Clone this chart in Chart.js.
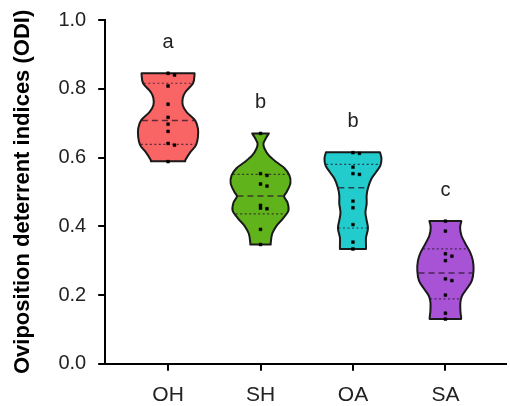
<!DOCTYPE html>
<html><head><meta charset="utf-8">
<script src="https://cdn.jsdelivr.net/npm/chart.js@4"></script>
<style>html,body{margin:0;padding:0;background:#fff}#wrap{width:510px;height:406px;position:relative}</style>
</head><body><div id="wrap"><canvas id="c"></canvas></div>
<script>
// ---- data ----
const categories = ['OH', 'SH', 'OA', 'SA'];
const letters = ['a', 'b', 'b', 'c'];
const yTicks = [0, 0.2, 0.4, 0.6, 0.8, 1.0];

// individual observations
const ohPoints = [0.845, 0.840, 0.808, 0.755, 0.717, 0.697, 0.676, 0.641, 0.636, 0.588];
const shPoints = [0.670, 0.553, 0.548, 0.523, 0.517, 0.461, 0.453, 0.451, 0.391, 0.347];
const oaPoints = [0.614, 0.612, 0.572, 0.553, 0.551, 0.473, 0.454, 0.405, 0.354, 0.334];
const saPoints = [0.415, 0.386, 0.320, 0.313, 0.300, 0.247, 0.242, 0.200, 0.147, 0.130];

// violin outline: levels (ODI) and half-widths (category units)
const ohLevels = [0.845, 0.840, 0.816, 0.790, 0.773, 0.752, 0.732, 0.708, 0.685, 0.659, 0.636, 0.615, 0.592, 0.589];
const ohWidths = [0.286, 0.286, 0.270, 0.186, 0.159, 0.159, 0.201, 0.292, 0.323, 0.323, 0.302, 0.239, 0.186, 0.186];
const shLevels = [0.670, 0.656, 0.641, 0.627, 0.606, 0.586, 0.569, 0.548, 0.525, 0.499, 0.487, 0.469, 0.446, 0.423, 0.402, 0.379, 0.353, 0.347];
const shWidths = [0.090, 0.058, 0.032, 0.042, 0.090, 0.175, 0.260, 0.313, 0.323, 0.281, 0.255, 0.292, 0.302, 0.244, 0.175, 0.127, 0.111, 0.111];
const oaLevels = [0.615, 0.598, 0.577, 0.557, 0.539, 0.513, 0.490, 0.466, 0.440, 0.417, 0.394, 0.367, 0.344, 0.334];
const oaWidths = [0.292, 0.308, 0.297, 0.249, 0.201, 0.164, 0.148, 0.148, 0.135, 0.148, 0.162, 0.141, 0.141, 0.141];
const saLevels = [0.415, 0.397, 0.373, 0.350, 0.324, 0.300, 0.271, 0.242, 0.219, 0.198, 0.179, 0.155, 0.135, 0.130];
const saWidths = [0.173, 0.159, 0.173, 0.215, 0.268, 0.297, 0.304, 0.286, 0.233, 0.180, 0.162, 0.162, 0.170, 0.170];

const medians = [0.708, 0.488, 0.512, 0.264];
const q1 = [0.638, 0.436, 0.395, 0.189];
const q3 = [0.816, 0.551, 0.580, 0.334];

const fillColors = ['#F96464', '#60B31A', '#22CCCC', '#A852D6'];

// ---- build ----
const groups = [
  {levels: ohLevels, widths: ohWidths, points: ohPoints},
  {levels: shLevels, widths: shWidths, points: shPoints},
  {levels: oaLevels, widths: oaWidths, points: oaPoints},
  {levels: saLevels, widths: saWidths, points: saPoints}
];

const scatterData = [];
groups.forEach((g, i) => {
  let prev = null;
  g.points.forEach(v => {
    const dup = prev !== null && Math.abs(prev - v) < 0.008;
    scatterData.push({x: i + 1 + (dup ? 0.07 : 0), y: v});
    prev = v;
  });
});

function catmull(ctx, p) {
  for (let i = 0; i < p.length - 1; i++) {
    const p0 = p[i - 1] || p[i], p1 = p[i], p2 = p[i + 1], p3 = p[i + 2] || p[i + 1];
    ctx.bezierCurveTo(p1.x + (p2.x - p0.x) / 6, p1.y + (p2.y - p0.y) / 6,
                      p2.x - (p3.x - p1.x) / 6, p2.y - (p3.y - p1.y) / 6, p2.x, p2.y);
  }
}
function widthAt(g, v) {
  const L = g.levels, W = g.widths;
  for (let k = 0; k < L.length - 1; k++) {
    if (v <= L[k] && v >= L[k + 1]) {
      const t = (L[k] - v) / (L[k] - L[k + 1] || 1);
      return W[k] + t * (W[k + 1] - W[k]);
    }
  }
  return W[W.length - 1];
}

const FONT = '"Liberation Sans", Arial, sans-serif';

const violinPlugin = {
  id: 'violin',
  beforeDatasetsDraw(chart) {
    const {ctx, scales: {x, y}} = chart;
    ctx.save();
    groups.forEach((g, i) => {
      const cx = i + 1;
      const left = g.levels.map((v, k) => ({x: x.getPixelForValue(cx - g.widths[k]), y: y.getPixelForValue(v)}));
      const right = g.levels.map((v, k) => ({x: x.getPixelForValue(cx + g.widths[k]), y: y.getPixelForValue(v)})).reverse();
      ctx.beginPath();
      ctx.moveTo(right[right.length - 1].x, right[right.length - 1].y);
      ctx.lineTo(left[0].x, left[0].y);
      catmull(ctx, left);
      ctx.lineTo(right[0].x, right[0].y);
      catmull(ctx, right);
      ctx.closePath();
      ctx.fillStyle = fillColors[i];
      ctx.fill();
      ctx.lineWidth = 2;
      ctx.strokeStyle = '#1a1a1a';
      ctx.lineJoin = 'round';
      ctx.stroke();
      // quartiles & median
      const lines = [[q3[i], [2, 2.5], 1.2], [medians[i], [6, 4], 1.5], [q1[i], [2, 2.5], 1.2]];
      lines.forEach(([v, dash, lw]) => {
        const hw = widthAt(g, v) * 0.97;
        ctx.beginPath();
        ctx.setLineDash(dash);
        ctx.lineWidth = lw;
        ctx.strokeStyle = 'rgba(40,20,40,0.75)';
        const py = y.getPixelForValue(v);
        ctx.moveTo(x.getPixelForValue(cx - hw), py);
        ctx.lineTo(x.getPixelForValue(cx + hw), py);
        ctx.stroke();
      });
      ctx.setLineDash([]);
    });
    ctx.restore();
  },
  afterDatasetsDraw(chart) {
    const {ctx, scales: {x, y}} = chart;
    ctx.save();
    ctx.font = '20px ' + FONT;
    ctx.fillStyle = '#222';
    ctx.textAlign = 'center';
    ctx.textBaseline = 'middle';
    groups.forEach((g, i) => {
      ctx.fillText(letters[i], x.getPixelForValue(i + 1), y.getPixelForValue(Math.max(...g.levels)) - 31);
    });
    ctx.restore();
  }
};

new Chart(document.getElementById('c'), {
  type: 'scatter',
  data: {
    datasets: [{
      data: scatterData,
      pointRadius: 2,
      pointStyle: 'rect',
      backgroundColor: '#000',
      borderColor: '#000',
      borderWidth: 0.5
    }]
  },
  options: {
    responsive: true,
    maintainAspectRatio: false,
    animation: false,
    layout: {padding: {top: 8, left: 10, right: 0, bottom: -14}},
    plugins: {legend: {display: false}, tooltip: {enabled: false}},
    scales: {
      x: {
        type: 'linear', min: 0.32, max: 4.65,
        afterBuildTicks: s => { s.ticks = categories.map((c, i) => ({value: i + 1})); },
        grid: {display: true, drawOnChartArea: false, drawTicks: true, tickLength: 7, color: '#000', lineWidth: 2},
        border: {display: true, color: '#000', width: 2},
        ticks: {
          color: '#222', padding: 12,
          font: {family: FONT, size: 21},
          callback: v => categories[v - 1] || ''
        }
      },
      y: {
        min: 0, max: 1,
        afterBuildTicks: s => { s.ticks = yTicks.map(v => ({value: v})); },
        grid: {display: true, drawOnChartArea: false, drawTicks: true, tickLength: 7, color: '#000', lineWidth: 2},
        border: {display: true, color: '#000', width: 2},
        ticks: {
          color: '#222', padding: 12,
          font: {family: FONT, size: 20, lineHeight: 0.8},
          callback: v => v.toFixed(1)
        },
        title: {
          display: true, text: 'Oviposition deterrent indices (ODI)', color: '#000',
          font: {family: FONT, size: 22, weight: 'bold'},
          padding: {top: 0, bottom: 10}
        }
      }
    }
  },
  plugins: [violinPlugin]
});
</script>
</body></html>
